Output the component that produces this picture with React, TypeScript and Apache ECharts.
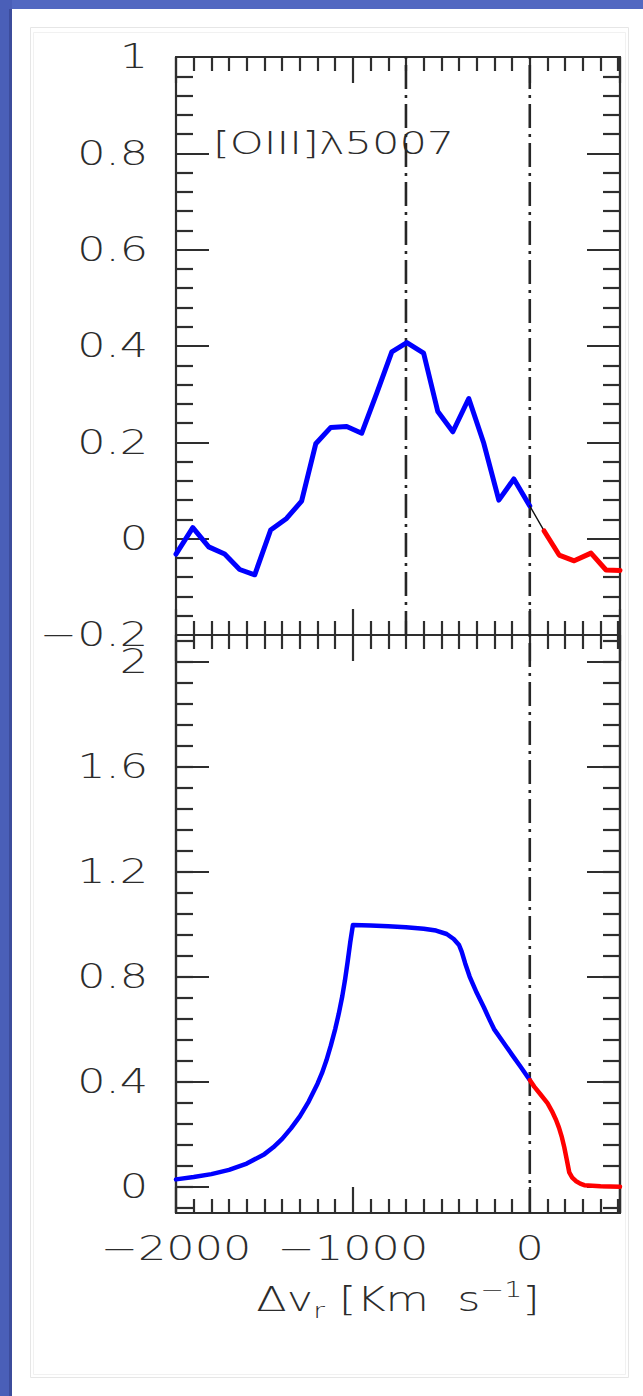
import React, { useEffect, useRef } from "react";
import * as echarts from "echarts";

// Velocity axis (km/s)
const X_MIN = -2000;
const X_MAX = 510;
const X_TICKS = [-2000, -1000, 0];
const X_LABELS = ["\u22122000", "\u22121000", "0"];

// Upper panel: [OIII] profile
const TOP_Y_MIN = -0.2;
const TOP_Y_MAX = 1;
const TOP_Y_TICKS = [-0.2, 0, 0.2, 0.4, 0.6, 0.8, 1];
const TOP_Y_LABELS = ["\u22120.2", "0", "0.2", "0.4", "0.6", "0.8", "1"];

// Lower panel: cumulative profile
const BOT_Y_MIN = -0.1;
const BOT_Y_MAX = 2.1;
const BOT_Y_TICKS = [0, 0.4, 0.8, 1.2, 1.6, 2];
const BOT_Y_LABELS = ["0", "0.4", "0.8", "1.2", "1.6", "2"];
const BOT_Y_MINOR = Array.from({ length: 28 }, (_, i) => +(-0.08 + i * 0.08).toFixed(2));

// Reference velocities marked with dash-dot lines
const VLINES_TOP = [-700, 0];
const VLINES_BOTTOM = [0];

const TITLE = "[OIII]\u03bb5007";

// [OIII] profile, blueshifted part
const oiiiBlue: [number, number][] = [
  [-2000, -0.032], [-1905, 0.023], [-1815, -0.017], [-1725, -0.032],
  [-1640, -0.064], [-1555, -0.075], [-1465, 0.018], [-1375, 0.042],
  [-1290, 0.078], [-1210, 0.197], [-1125, 0.231], [-1035, 0.233],
  [-950, 0.219], [-865, 0.302], [-780, 0.388], [-695, 0.407],
  [-600, 0.385], [-520, 0.264], [-435, 0.222], [-345, 0.291],
  [-260, 0.198], [-175, 0.08], [-90, 0.124], [0, 0.068],
];
// short connecting segment across the systemic velocity
const oiiiLink: [number, number][] = [[0, 0.068], [81, 0.016]];
// [OIII] profile, redshifted part
const oiiiRed: [number, number][] = [
  [81, 0.016], [166, -0.034], [251, -0.046], [346, -0.03], [431, -0.065], [510, -0.066],
];

// cumulative profile, blueshifted part
const cumBlue: [number, number][] = [
  [-2000, 0.028], [-1900, 0.037], [-1800, 0.048], [-1700, 0.064],
  [-1600, 0.088], [-1500, 0.124], [-1450, 0.15], [-1400, 0.182],
  [-1350, 0.222], [-1300, 0.268], [-1250, 0.324], [-1200, 0.392],
  [-1175, 0.432], [-1150, 0.48], [-1125, 0.537], [-1100, 0.6],
  [-1080, 0.658], [-1060, 0.725], [-1045, 0.785], [-1030, 0.855],
  [-1015, 0.93], [-1000, 0.996], [-900, 0.994], [-800, 0.991],
  [-700, 0.988], [-600, 0.982], [-530, 0.975], [-470, 0.962],
  [-430, 0.943], [-400, 0.92], [-385, 0.895], [-365, 0.85],
  [-340, 0.8], [-300, 0.738], [-259, 0.682], [-225, 0.632],
  [-202, 0.6], [-150, 0.55], [-100, 0.502], [-50, 0.455], [0, 0.406],
];
// cumulative profile, redshifted part
const cumRed: [number, number][] = [
  [0, 0.406], [25, 0.381], [60, 0.352], [100, 0.318], [125, 0.288],
  [148, 0.255], [165, 0.225], [180, 0.192], [195, 0.15], [210, 0.1],
  [223, 0.055], [240, 0.035], [260, 0.022], [285, 0.012], [308, 0.006],
  [400, 0.002], [510, 0.0],
];

const FRAME = "#2e2e2e";
const TEXT = "#2c2c2c";
const FONT = "DejaVu Sans";
const STRETCH = 1.35;

const GRID_LEFT = 176;
const GRID_RIGHT = 23;
const PANEL_H = 578;
const TOP0 = 57;
const TOP1 = TOP0 + PANEL_H;

function xAxis(gridIndex: number, position: "top" | "bottom") {
  return {
    type: "value",
    gridIndex,
    position,
    min: X_MIN,
    max: X_MAX,
    interval: 1000,
    axisLine: { show: true, onZero: false, lineStyle: { color: FRAME, width: 2.2 } },
    axisTick: { show: true, inside: true, length: 26, lineStyle: { color: FRAME, width: 2.2 } },
    minorTick: { show: true, splitNumber: 10, length: 14, lineStyle: { color: FRAME, width: 2.2 } },
    axisLabel: { show: false },
    splitLine: { show: false },
    minorSplitLine: { show: false },
  };
}

function yAxisTop(position: "left" | "right") {
  return {
    type: "value",
    gridIndex: 0,
    position,
    min: TOP_Y_MIN,
    max: TOP_Y_MAX,
    interval: 0.2,
    axisLine: { show: true, onZero: false, lineStyle: { color: FRAME, width: 2.2 } },
    axisTick: { show: true, inside: true, length: 33, lineStyle: { color: FRAME, width: 2.2 } },
    minorTick: { show: true, splitNumber: 5, length: 17, lineStyle: { color: FRAME, width: 2.2 } },
    axisLabel: { show: false },
    splitLine: { show: false },
  };
}

function yAxisBottom(position: "left" | "right", values: number[], length: number) {
  return {
    type: "value",
    gridIndex: 1,
    position,
    min: BOT_Y_MIN,
    max: BOT_Y_MAX,
    axisLine: { show: true, onZero: false, lineStyle: { color: FRAME, width: 2.2 } },
    axisTick: {
      show: true,
      inside: true,
      length,
      customValues: values,
      lineStyle: { color: FRAME, width: 2.2 },
    },
    axisLabel: { show: false },
    splitLine: { show: false },
  };
}

function curve(data: [number, number][], color: string, width: number, axis: number) {
  return {
    type: "line",
    xAxisIndex: axis,
    yAxisIndex: axis,
    data,
    symbol: "none",
    silent: true,
    z: 4,
    lineStyle: { color, width, join: "round", cap: "round" },
  };
}

function vline(x: number, yMin: number, yMax: number, axis: number) {
  return {
    type: "line",
    xAxisIndex: axis,
    yAxisIndex: axis,
    data: [[x, yMin], [x, yMax]],
    symbol: "none",
    silent: true,
    z: 3,
    lineStyle: { color: "#262626", width: 2.6, type: [24, 6, 3, 6] },
  };
}

function label(text: string, x: number, y: number, align: string, size = 33) {
  return {
    type: "text",
    x,
    y,
    scaleX: STRETCH,
    silent: true,
    style: {
      text,
      fill: TEXT,
      fontFamily: FONT,
      fontWeight: 300,
      fontSize: size,
      align,
      verticalAlign: "middle",
    },
  };
}

export default function App() {
  const ref = useRef<HTMLDivElement>(null);

  useEffect(() => {
    if (!ref.current) return;
    const chart = echarts.init(ref.current, null, { renderer: "svg" });

    chart.setOption({
      animation: false,
      backgroundColor: "#ffffff",
      grid: [
        { left: GRID_LEFT, right: GRID_RIGHT, top: TOP0, height: PANEL_H, containLabel: false },
        { left: GRID_LEFT, right: GRID_RIGHT, top: TOP1, height: PANEL_H, containLabel: false },
      ],
      xAxis: [xAxis(0, "bottom"), xAxis(0, "top"), xAxis(1, "bottom"), xAxis(1, "top")],
      yAxis: [
        yAxisTop("left"),
        yAxisTop("right"),
        yAxisBottom("left", BOT_Y_TICKS, 33),
        yAxisBottom("right", BOT_Y_TICKS, 33),
        yAxisBottom("left", BOT_Y_MINOR, 17),
        yAxisBottom("right", BOT_Y_MINOR, 17),
      ],
      series: [
        ...VLINES_TOP.map((x) => vline(x, TOP_Y_MIN, TOP_Y_MAX, 0)),
        curve(oiiiBlue, "#0000ff", 5, 0),
        curve(oiiiLink, "#111111", 1.4, 0),
        curve(oiiiRed, "#ff0000", 5, 0),
        ...VLINES_BOTTOM.map((x) => vline(x, BOT_Y_MIN, BOT_Y_MAX, 2)),
        curve(cumBlue, "#0000ff", 4.5, 2),
        curve(cumRed, "#ff0000", 4.5, 2),
      ],
    });

    const toPx = (axis: number, v: [number, number]) =>
      chart.convertToPixel({ xAxisIndex: axis, yAxisIndex: axis }, v) as number[];

    const labels: any[] = [];
    TOP_Y_TICKS.forEach((v, i) => {
      const [px, py] = toPx(0, [X_MIN, v]);
      labels.push(label(TOP_Y_LABELS[i], px - 28, py, "right"));
    });
    BOT_Y_TICKS.forEach((v, i) => {
      const [px, py] = toPx(2, [X_MIN, v]);
      labels.push(label(BOT_Y_LABELS[i], px - 28, py, "right"));
    });
    X_TICKS.forEach((v, i) => {
      const [px, py] = toPx(2, [v, BOT_Y_MIN]);
      labels.push(label(X_LABELS[i], px, py + 36, "center"));
    });
    const [leftPx, bottomPx] = toPx(2, [X_MIN, BOT_Y_MIN]);
    const [rightPx, topPx] = toPx(0, [X_MAX, TOP_Y_MAX]);

    // panel title
    labels.push({
      type: "text",
      x: leftPx + 37,
      y: topPx + 86,
      scaleX: STRETCH,
      silent: true,
      style: {
        text: TITLE,
        fill: TEXT,
        fontFamily: FONT,
        fontWeight: 300,
        fontSize: 32,
        align: "left",
        verticalAlign: "middle",
      },
    });

    // x-axis title with sub- and superscript
    labels.push({
      type: "text",
      x: (leftPx + rightPx) / 2,
      y: bottomPx + 87,
      scaleX: STRETCH,
      silent: true,
      style: {
        text: "{a|\u0394v}{sub|r}{a| [Km  s}{sup|\u22121}{a|]}",
        fill: TEXT,
        fontFamily: FONT,
        fontWeight: 300,
        fontSize: 33,
        align: "center",
        verticalAlign: "middle",
        rich: {
          a: { fontSize: 33, lineHeight: 42, fontFamily: FONT, fontWeight: 300, fill: TEXT },
          sub: { fontSize: 21, lineHeight: 21, verticalAlign: "bottom", fontFamily: FONT, fontWeight: 300, fill: TEXT },
          sup: { fontSize: 21, lineHeight: 21, verticalAlign: "top", fontFamily: FONT, fontWeight: 300, fill: TEXT },
        },
      },
    });

    const background = [
      { type: "rect", silent: true, z: -10, shape: { x: 0, y: 0, width: 643, height: 9 }, style: { fill: "#5268c1" } },
      { type: "rect", silent: true, z: -10, shape: { x: 0, y: 0, width: 12, height: 1396 }, style: { fill: "#4a5fb8" } },
      { type: "rect", silent: true, z: -9, shape: { x: 9, y: 9, width: 3, height: 1387 }, style: { fill: "#3c4c9c" } },
      { type: "rect", silent: true, z: -9, shape: { x: 30.5, y: 27.5, width: 598, height: 1350 }, style: { fill: "none", stroke: "#e6e6e6", lineWidth: 1 } },
      { type: "rect", silent: true, z: -9, shape: { x: 33.5, y: 32.5, width: 592, height: 1342 }, style: { fill: "none", stroke: "#f1f1f1", lineWidth: 1 } },
    ];

    chart.setOption({ graphic: [{ elements: [...background, ...labels] }] });

    return () => chart.dispose();
  }, []);

  return (
    <div
      ref={ref}
      style={{ position: "absolute", left: 0, top: 0, width: 643, height: 1396 }}
    />
  );
}
